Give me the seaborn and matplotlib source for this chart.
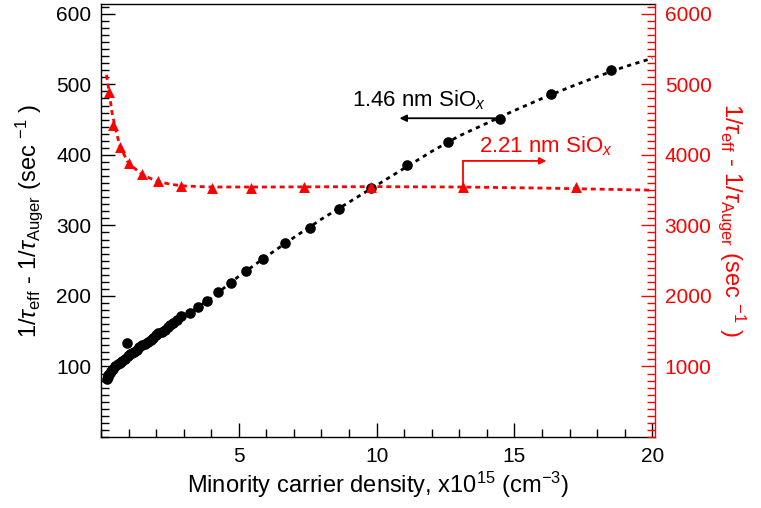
import matplotlib
matplotlib.use("Agg")
import matplotlib.pyplot as plt
import seaborn as sns
import pandas as pd
from matplotlib.ticker import MultipleLocator, FixedLocator

# ---------------- data ----------------
black_x = [0.22, 0.25, 0.27, 0.32, 0.38, 0.45, 0.52, 0.60, 0.69, 0.78, 0.87, 0.93,
           0.98, 1.05, 1.11, 1.20, 1.29, 1.38, 1.47, 1.58, 1.71, 1.80, 1.90, 2.00,
           2.08, 2.20, 2.32, 2.42, 2.50, 2.62, 2.74, 2.92, 3.22, 3.53, 3.85, 4.25,
           4.70, 5.25, 5.89, 6.66, 7.57, 8.63, 9.78, 11.12, 12.60, 14.46, 16.34, 18.50]
black_y = [82, 85, 88, 91, 94, 97, 100, 103, 105, 108, 110, 133,
           115, 117, 119, 121, 123, 127, 130, 132, 135, 138, 140, 144,
           147, 149, 152, 156, 159, 162, 166, 171, 176, 184, 193, 205,
           219, 235, 253, 275, 296, 323, 353, 386, 418, 451, 487, 520]

black_fit_x = [0.2, 1, 2, 3, 4, 5, 6, 7, 8, 9, 10, 11, 12, 13, 14, 15, 16, 17, 18, 19, 20]
black_fit_y = [82, 112, 144, 171, 197, 228, 256, 283, 309, 333, 357, 381, 405, 427,
               445, 463, 480, 496, 511, 525, 537]

red_x = [0.29, 0.45, 0.69, 1.01, 1.47, 2.08, 2.92, 4.01, 5.43, 7.36, 9.81, 13.13, 17.24]
red_y = [4898, 4426, 4118, 3891, 3726, 3631, 3560, 3536, 3536, 3550, 3550, 3542, 3542]

red_fit_x = [0.2, 0.3, 0.4, 0.55, 0.7, 1.0, 1.5, 2.0, 2.5, 3, 4, 6, 8, 10, 13, 16, 18, 20]
red_fit_y = [5135, 4880, 4600, 4330, 4110, 3880, 3720, 3630, 3585, 3560, 3545, 3545,
             3548, 3550, 3545, 3530, 3515, 3500]

x_major = [5, 10, 15, 20]
left_major = [100, 200, 300, 400, 500, 600]
right_major = [1000, 2000, 3000, 4000, 5000, 6000]

label_black = "1.46 nm SiO$_{\\it x}$"
label_red = "2.21 nm SiO$_{\\it x}$"
xlabel = "Minority carrier density, x10$^{15}$ (cm$^{-3}$)"
ylabel = "1/$\\tau_{\\rm eff}$ - 1/$\\tau_{\\rm Auger}$ (sec $^{-1}$ )"

# ---------------- style ----------------
sns.set_theme(style="white")
plt.rcParams["font.family"] = ["Liberation Sans", "DejaVu Sans"]
plt.rcParams["mathtext.fontset"] = "custom"
plt.rcParams["mathtext.rm"] = "Liberation Sans"
plt.rcParams["mathtext.it"] = "Liberation Sans:italic"
plt.rcParams["mathtext.bf"] = "Liberation Sans:bold"
plt.rcParams["mathtext.sf"] = "Liberation Sans"

RED = "#ff0000"
FS = 15
FS_LAB = 17
FS_ANN = 16

fig = plt.figure(figsize=(7.61, 5.08), dpi=100)
ax = fig.add_axes([101 / 761, 71 / 508, 554 / 761, 433 / 508])
ax2 = ax.twinx()

df_b = pd.DataFrame({"x": black_x, "y": black_y})
df_bf = pd.DataFrame({"x": black_fit_x, "y": black_fit_y})
df_r = pd.DataFrame({"x": red_x, "y": red_y})
df_rf = pd.DataFrame({"x": red_fit_x, "y": red_fit_y})

sns.lineplot(data=df_bf, x="x", y="y", ax=ax, color="black", lw=2,
             linestyle=(0, (1.5, 1.6)), sort=False, zorder=2)
sns.scatterplot(data=df_b, x="x", y="y", ax=ax, color="black", s=58,
                edgecolor="black", linewidth=0, zorder=3)

sns.lineplot(data=df_rf, x="x", y="y", ax=ax2, color=RED, lw=2,
             linestyle=(0, (1.8, 1.4)), sort=False, zorder=2)
sns.scatterplot(data=df_r, x="x", y="y", ax=ax2, color=RED, marker="^", s=62,
                edgecolor=RED, linewidth=0, zorder=3)

ax.set_xlim(0, 20.1)
ax.set_ylim(0, 614)
ax2.set_ylim(0, 6140)

# ticks
ax.xaxis.set_major_locator(FixedLocator(x_major))
ax.xaxis.set_minor_locator(MultipleLocator(1))
ax.yaxis.set_major_locator(FixedLocator(left_major))
ax.yaxis.set_minor_locator(MultipleLocator(10))
ax2.yaxis.set_major_locator(FixedLocator(right_major))
ax2.yaxis.set_minor_locator(MultipleLocator(100))

ax.tick_params(axis="both", which="major", direction="in", length=10, width=1,
               colors="black", labelsize=FS, pad=7)
ax.tick_params(axis="both", which="minor", direction="in", length=6, width=1,
               colors="black")
ax.tick_params(axis="y", which="both", left=True, right=False)
ax.tick_params(axis="x", which="both", bottom=True, top=False)
ax2.tick_params(axis="y", which="major", direction="in", length=10, width=1,
                colors=RED, labelsize=FS, pad=7)
ax2.tick_params(axis="y", which="minor", direction="in", length=6, width=1,
                colors=RED)

for s in ["left", "bottom", "top"]:
    ax.spines[s].set_color("black")
    ax.spines[s].set_linewidth(1)
ax.spines["right"].set_visible(False)
for s in ["left", "bottom", "top"]:
    ax2.spines[s].set_visible(False)
ax2.spines["right"].set_color(RED)
ax2.spines["right"].set_linewidth(1)

ax.set_xlabel(xlabel, fontsize=FS_LAB, color="black", labelpad=3)
ax.set_ylabel(ylabel, fontsize=FS_LAB, color="black", labelpad=8)
ax2.set_ylabel(ylabel, fontsize=FS_LAB, color=RED, rotation=270, labelpad=26)

# annotations
ax.text(9.1, 478, label_black, fontsize=FS_ANN, color="black", ha="left", va="center")
ax.annotate("", xy=(10.83, 452), xytext=(14.46, 452),
            arrowprops=dict(arrowstyle="-|>", color="black", lw=1.3,
                            mutation_scale=10, shrinkA=0, shrinkB=0))

ax2.text(13.7, 4120, label_red, fontsize=FS_ANN, color=RED, ha="left", va="center")
ax2.plot([13.13, 13.13], [3542, 3915], color=RED, lw=1.3)
ax2.annotate("", xy=(16.16, 3915), xytext=(13.13, 3915),
             arrowprops=dict(arrowstyle="-|>", color=RED, lw=1.3,
                             mutation_scale=10, shrinkA=0, shrinkB=0))

fig.savefig("out.png", dpi=100)
